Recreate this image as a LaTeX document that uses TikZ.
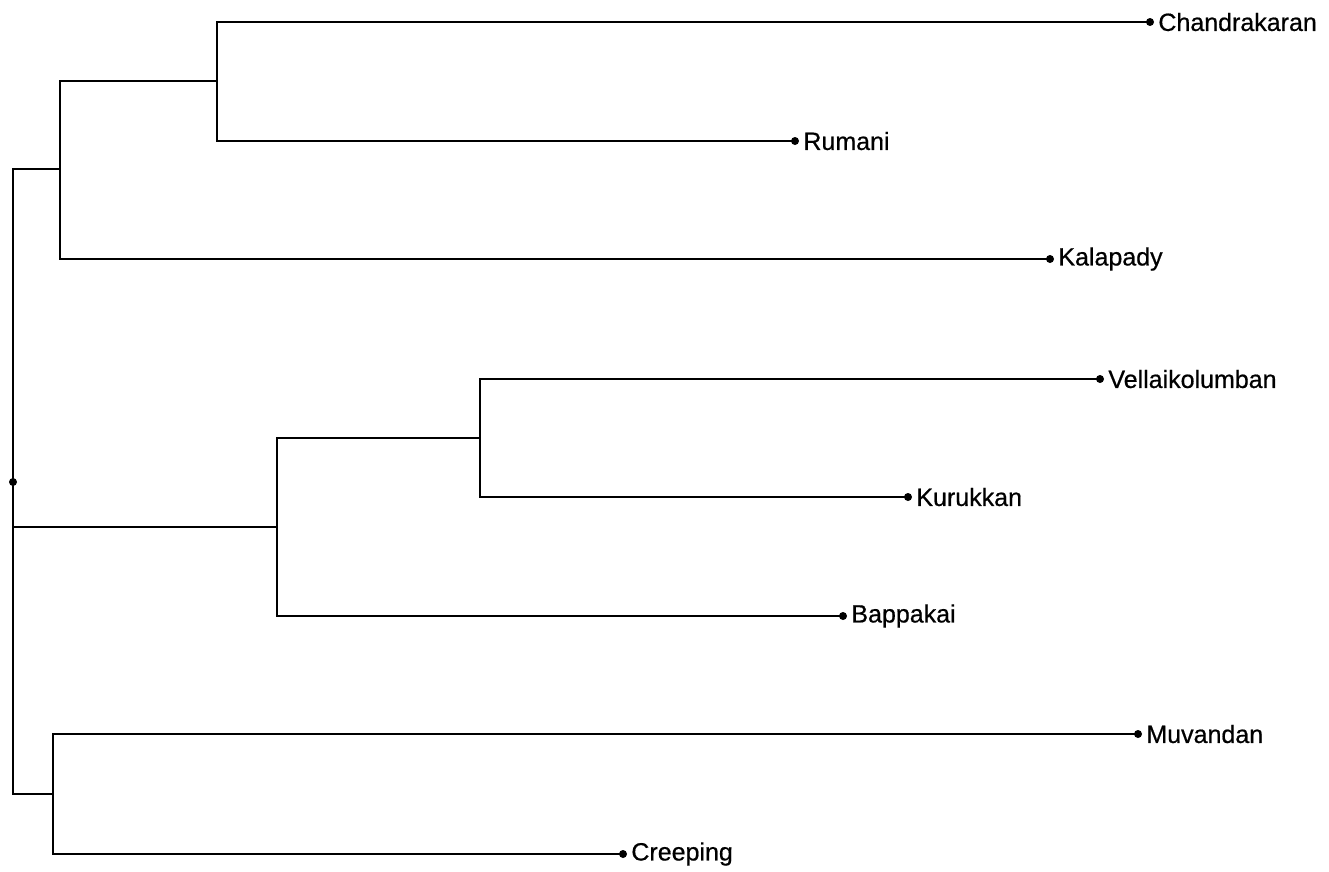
\documentclass[tikz,border=0pt]{standalone}
\usepackage{fontspec}
\setmainfont{Liberation Sans}
\newfontfamily\labelfont[FakeBold=0.6]{Liberation Sans}
\begin{document}
\begin{tikzpicture}[x=1pt,y=-1pt,
  branch/.style={line width=2pt},
  leafdot/.style={circle,fill=black,inner sep=0pt,minimum size=8pt},
  leaflabel/.style={anchor=west,inner sep=0pt,xshift=4pt,font=\labelfont\fontsize{25}{29}\selectfont}]
\useasboundingbox (0,0) rectangle (1329,871);
% internal nodes
\coordinate (root) at (13,482);
\coordinate (A) at (60,169);
\coordinate (A1) at (217,81);
\coordinate (B) at (277,527);
\coordinate (B1) at (480,438);
\coordinate (C) at (53,794);
% leaves
\node[leafdot] (l1) at (1150,22) {};
\node[leafdot] (l2) at (795,141) {};
\node[leafdot] (l3) at (1050,259) {};
\node[leafdot] (l4) at (1100,379) {};
\node[leafdot] (l5) at (908,497) {};
\node[leafdot] (l6) at (843,616) {};
\node[leafdot] (l7) at (1138,734) {};
\node[leafdot] (l8) at (623,854) {};
\node[leaflabel] (t1) at (l1.east) {Chandrakaran};
\node[leaflabel] (t2) at (l2.east) {Rumani};
\node[leaflabel] (t3) at (l3.east) {Kalapady};
\node[leaflabel] (t4) at (l4.east) {Vellaikolumban};
\node[leaflabel] (t5) at (l5.east) {Kurukkan};
\node[leaflabel] (t6) at (l6.east) {Bappakai};
\node[leaflabel] (t7) at (l7.east) {Muvandan};
\node[leaflabel] (t8) at (l8.east) {Creeping};
\node[leafdot] (rootdot) at (root) {};
% branches
\draw[branch] (root) |- (A);
\draw[branch] (root) |- (B);
\draw[branch] (root) |- (C);
\draw[branch] (A) |- (A1);
\draw[branch] (A) |- (l3.center);
\draw[branch] (A1) |- (l1.center);
\draw[branch] (A1) |- (l2.center);
\draw[branch] (B) |- (B1);
\draw[branch] (B) |- (l6.center);
\draw[branch] (B1) |- (l4.center);
\draw[branch] (B1) |- (l5.center);
\draw[branch] (C) |- (l7.center);
\draw[branch] (C) |- (l8.center);
\end{tikzpicture}
\end{document}
